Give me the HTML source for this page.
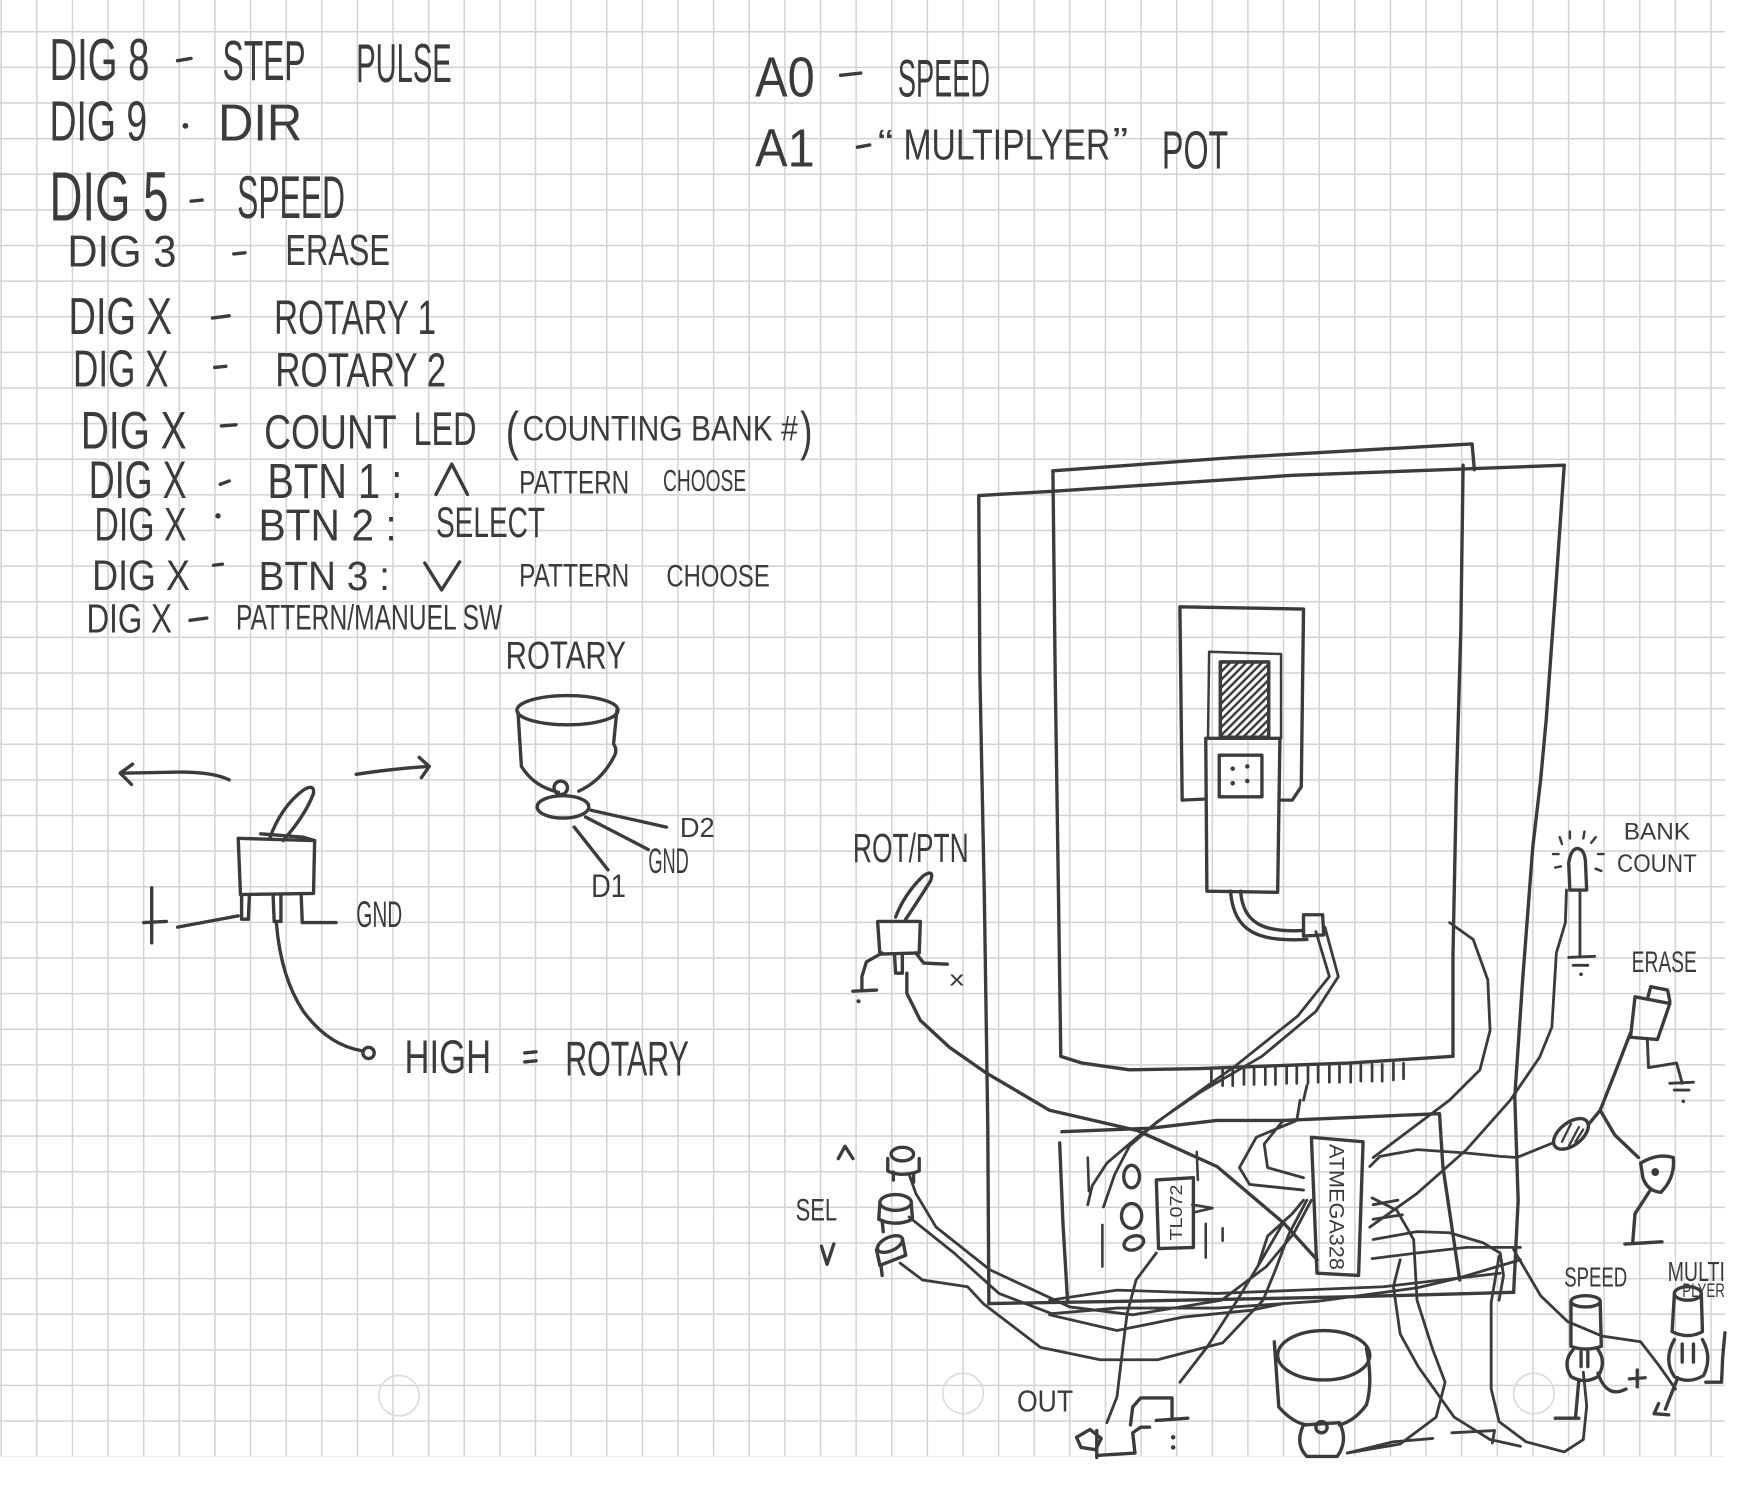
<!DOCTYPE html>
<html><head><meta charset="utf-8">
<style>
html,body{margin:0;padding:0;background:#fff;}
svg{display:block;}
text{font-family:"Liberation Sans",sans-serif;fill:#3b3b3b;}
.i{fill:none;stroke:#3b3b3b;stroke-width:3;stroke-linecap:round;stroke-linejoin:round;}
.w{fill:none;stroke:#3b3b3b;stroke-width:2.5;stroke-linecap:round;stroke-linejoin:round;}
.t{fill:none;stroke:#3b3b3b;stroke-width:2;stroke-linecap:round;stroke-linejoin:round;}
</style></head><body>
<svg width="1762" height="1489" viewBox="0 0 1568 1325" preserveAspectRatio="none">
<defs>
<pattern id="g" width="31.7" height="31.7" patternUnits="userSpaceOnUse" x="0.4" y="27.6">
<path d="M0.65,0 V31.7 M0,0.65 H31.7" stroke="#d2d2d2" stroke-width="1.3" fill="none"/>
</pattern>
<pattern id="h" width="5" height="5" patternUnits="userSpaceOnUse" patternTransform="rotate(45)">
<rect width="5" height="5" fill="#fff"/><line x1="1" y1="0" x2="1" y2="5" stroke="#3b3b3b" stroke-width="2.4"/>
</pattern>
</defs>
<rect x="0" y="0" width="1568" height="1325" fill="#fff"/>
<rect x="0" y="0" width="1535" height="1296" fill="url(#g)"/>

<!-- hole punches -->
<circle cx="355" cy="1242" r="18" fill="none" stroke="#dcdcdc" stroke-width="1.5"/>
<circle cx="857" cy="1240" r="18" fill="none" stroke="#dcdcdc" stroke-width="1.5"/>
<circle cx="1365" cy="1240" r="18" fill="none" stroke="#dcdcdc" stroke-width="1.5"/>

<!-- ===== LEFT TEXT ===== -->
<g lengthAdjust="spacingAndGlyphs">
<text x="44" y="71" font-size="53" textLength="89" lengthAdjust="spacingAndGlyphs">DIG 8</text>
<text x="198" y="71" font-size="50" textLength="74" lengthAdjust="spacingAndGlyphs">STEP</text>
<text x="317" y="73" font-size="49" textLength="85" lengthAdjust="spacingAndGlyphs">PULSE</text>

<text x="44" y="125" font-size="50" textLength="87" lengthAdjust="spacingAndGlyphs">DIG 9</text>
<text x="194" y="125" font-size="46" textLength="75" lengthAdjust="spacingAndGlyphs">DIR</text>

<text x="44" y="196" font-size="62" textLength="106" lengthAdjust="spacingAndGlyphs">DIG 5</text>
<text x="211" y="194" font-size="54" textLength="96" lengthAdjust="spacingAndGlyphs">SPEED</text>

<text x="60" y="237" font-size="40" textLength="97" lengthAdjust="spacingAndGlyphs">DIG 3</text>
<text x="254" y="236" font-size="39" textLength="93" lengthAdjust="spacingAndGlyphs">ERASE</text>

<text x="61" y="297" font-size="46" textLength="92" lengthAdjust="spacingAndGlyphs">DIG X</text>
<text x="244" y="297" font-size="43" textLength="144" lengthAdjust="spacingAndGlyphs">ROTARY 1</text>

<text x="65" y="344" font-size="46" textLength="85" lengthAdjust="spacingAndGlyphs">DIG X</text>
<text x="245" y="344" font-size="43" textLength="152" lengthAdjust="spacingAndGlyphs">ROTARY 2</text>

<text x="72" y="399" font-size="47" textLength="94" lengthAdjust="spacingAndGlyphs">DIG X</text>
<text x="235" y="399" font-size="43" textLength="118" lengthAdjust="spacingAndGlyphs">COUNT</text>
<text x="368" y="396" font-size="42" textLength="56" lengthAdjust="spacingAndGlyphs">LED</text>
<text x="450" y="400" font-size="48" textLength="12" lengthAdjust="spacingAndGlyphs">(</text>
<text x="465" y="392" font-size="31" textLength="245" lengthAdjust="spacingAndGlyphs">COUNTING BANK #</text>
<text x="712" y="400" font-size="48" textLength="11" lengthAdjust="spacingAndGlyphs">)</text>

<text x="79" y="443" font-size="47" textLength="87" lengthAdjust="spacingAndGlyphs">DIG X</text>
<text x="238" y="443" font-size="44" textLength="120" lengthAdjust="spacingAndGlyphs">BTN 1 :</text>
<text x="462" y="439" font-size="29" textLength="98" lengthAdjust="spacingAndGlyphs">PATTERN</text>
<text x="590" y="437" font-size="27" textLength="74" lengthAdjust="spacingAndGlyphs">CHOOSE</text>

<text x="84" y="481" font-size="42" textLength="82" lengthAdjust="spacingAndGlyphs">DIG X</text>
<text x="230" y="481" font-size="40" textLength="123" lengthAdjust="spacingAndGlyphs">BTN 2 :</text>
<text x="388" y="478" font-size="38" textLength="97" lengthAdjust="spacingAndGlyphs">SELECT</text>

<text x="82" y="525" font-size="38" textLength="87" lengthAdjust="spacingAndGlyphs">DIG X</text>
<text x="230" y="525" font-size="36" textLength="117" lengthAdjust="spacingAndGlyphs">BTN 3 :</text>
<text x="462" y="522" font-size="29" textLength="98" lengthAdjust="spacingAndGlyphs">PATTERN</text>
<text x="593" y="522" font-size="28" textLength="92" lengthAdjust="spacingAndGlyphs">CHOOSE</text>

<text x="77" y="563" font-size="36" textLength="76" lengthAdjust="spacingAndGlyphs">DIG X</text>
<text x="210" y="560" font-size="31" textLength="237" lengthAdjust="spacingAndGlyphs">PATTERN/MANUEL SW</text>

<text x="450" y="595" font-size="35" textLength="107" lengthAdjust="spacingAndGlyphs">ROTARY</text>

<!-- right top text -->
<text x="672" y="86" font-size="50" textLength="53" lengthAdjust="spacingAndGlyphs">A0</text>
<text x="799" y="86" font-size="47" textLength="82" lengthAdjust="spacingAndGlyphs">SPEED</text>
<text x="672" y="148" font-size="48" textLength="53" lengthAdjust="spacingAndGlyphs">A1</text>
<text x="781" y="138" font-size="32" textLength="14" lengthAdjust="spacingAndGlyphs">“</text>
<text x="804" y="142" font-size="39" textLength="184" lengthAdjust="spacingAndGlyphs">MULTIPLYER</text>
<text x="990" y="136" font-size="32" textLength="14" lengthAdjust="spacingAndGlyphs">”</text>
<text x="1034" y="150" font-size="48" textLength="59" lengthAdjust="spacingAndGlyphs">POT</text>

<!-- switch diagram labels -->
<text x="360" y="955" font-size="42" textLength="77" lengthAdjust="spacingAndGlyphs">HIGH</text>
<text x="503" y="957" font-size="44" textLength="110" lengthAdjust="spacingAndGlyphs">ROTARY</text>
<text x="605" y="745" font-size="25" textLength="31" lengthAdjust="spacingAndGlyphs">D2</text>
<text x="577" y="777" font-size="31" textLength="36" lengthAdjust="spacingAndGlyphs">GND</text>
<text x="526" y="798" font-size="29" textLength="31" lengthAdjust="spacingAndGlyphs">D1</text>
<text x="317" y="825" font-size="33" textLength="41" lengthAdjust="spacingAndGlyphs">GND</text>

<!-- right drawing labels -->
<text x="759" y="767" font-size="36" textLength="103" lengthAdjust="spacingAndGlyphs">ROT/PTN</text>
<text x="1445" y="747" font-size="21" textLength="59" lengthAdjust="spacingAndGlyphs">BANK</text>
<text x="1439" y="776" font-size="22" textLength="71" lengthAdjust="spacingAndGlyphs">COUNT</text>
<text x="1452" y="865" font-size="26" textLength="58" lengthAdjust="spacingAndGlyphs">ERASE</text>
<text x="708" y="1086" font-size="28" textLength="37" lengthAdjust="spacingAndGlyphs">SEL</text>
<text x="1392" y="1145" font-size="25" textLength="56" lengthAdjust="spacingAndGlyphs">SPEED</text>
<text x="1484" y="1140" font-size="25" textLength="51" lengthAdjust="spacingAndGlyphs">MULTI</text>
<text x="1497" y="1154" font-size="17" textLength="38" lengthAdjust="spacingAndGlyphs">PLYER</text>
<text x="905" y="1256" font-size="27" textLength="50" lengthAdjust="spacingAndGlyphs">OUT</text>
<text x="845" y="877" font-size="18" textLength="13" lengthAdjust="spacingAndGlyphs">x</text>
<text transform="translate(1183,1018) rotate(90)" x="0" y="0" font-size="19" textLength="112" lengthAdjust="spacingAndGlyphs">ATMEGA328</text>
<text transform="translate(1052,1104) rotate(-90)" x="0" y="0" font-size="16" textLength="50" lengthAdjust="spacingAndGlyphs">TL072</text>
</g>

<!-- dashes / dots / symbols in text -->
<g class="i">
<path d="M158,54 L170,52"/>
<path d="M170,179 L180,178"/>
<path d="M208,226 L218,225"/>
<path d="M189,283 L204,281"/>
<path d="M191,327 L201,326"/>
<path d="M197,379 L210,378"/>
<path d="M196,431 L204,428"/>
<path d="M190,503 L198,502"/>
<path d="M169,552 L184,550"/>
<path d="M748,67 L766,65"/>
<path d="M763,131 L774,129"/>
<path d="M388,440 L402,413 L416,440"/>
<path d="M378,501 L393,525 L409,500"/>
<path d="M467,937 L477,936 M467,945 L477,944"/>
<path d="M746,1031 L752,1020 L759,1031"/>
<path d="M731,1109 L736,1125 L742,1107"/>
</g>
<circle cx="165" cy="112" r="2.6" fill="#3b3b3b"/>
<circle cx="194" cy="459" r="2.4" fill="#3b3b3b"/>

<!-- ===== SWITCH DIAGRAM ===== -->
<g class="i">
<!-- arrows -->
<path d="M204,694 Q190,687 160,687 L108,688"/>
<path d="M118,680 L107,688 L117,698"/>
<path d="M317,689 Q350,684 381,682"/>
<path d="M373,674 L382,682 L375,692"/>
<!-- lever -->
<path d="M240,746 Q250,718 270,703 Q280,697 279,706 Q272,725 252,748"/>
<path d="M232,742 L270,745 L280,748"/>
<!-- body -->
<path d="M212,746 L280,748 L279,795 L214,796 Z"/>
<!-- legs -->
<path d="M215,796 L215,818 L221,818 L222,796"/>
<path d="M243,796 L244,820 L250,820 L250,796"/>
<path d="M268,796 L269,821 L299,821"/>
<path d="M212,815 L158,825"/>
<path d="M135,790 L135,839 M128,821 L148,820"/>
<!-- wire to high -->
<path d="M246,822 Q250,870 270,900 Q292,930 322,935"/>
<circle cx="328" cy="937" r="5"/>
<!-- rotary -->
<ellipse cx="505" cy="632" rx="45" ry="13"/>
<path d="M461,634 L464,682 Q475,700 497,705"/>
<path d="M549,632 L546,662 Q550,668 546,674 Q535,695 515,704"/>
<circle cx="499" cy="701" r="6"/>
<ellipse cx="501" cy="718" rx="23" ry="10"/>
<path d="M526,721 L593,736"/>
<path d="M521,727 L577,756"/>
<path d="M511,736 L541,774"/>
</g>

<!-- ===== RIGHT BIG DRAWING ===== -->
<g class="i">
<!-- outer rect -->
<path d="M871,441 L940,437 L1150,423 L1392,414"/>
<path d="M871,441 L872,600 L876,800 L879,1000 L880,1160"/>
<path d="M1392,414 L1384,530 L1376,640 L1371,694 L1364,754 L1355,872 L1348,976 L1351,1068 L1347,1150"/>
<path d="M880,1160 L1000,1158 L1200,1154 L1347,1150"/>
<!-- inner rect -->
<path d="M937,419 L1100,407 L1310,395 L1312,418"/>
<path d="M1302,414 L1300,560 L1296,700 L1293,850 L1293,940"/>
<path d="M937,419 L939,600 L942,800 L944,940 L963,946 L1005,952 L1065,951 L1200,946 L1293,940"/>
<!-- comb -->
<path d="M1078,951v15 M1088,951v15 M1097,951v15 M1107,950v15 M1116,950v15 M1126,950v15 M1135,950v15 M1145,949v15 M1154,949v15 M1164,949v15 M1173,948v15 M1183,948v15 M1192,948v15 M1202,948v15 M1211,947v15 M1221,947v15 M1230,947v15 M1240,946v15 M1249,946v14" stroke-width="2.4"/>
<!-- display module -->
<path d="M1050,540 L1160,542 L1158,700 L1150,712 L1139,712 M1050,540 L1052,712 L1073,711"/>
<path d="M1076,580 L1140,582 L1140,657 M1076,580 L1075,657" stroke-width="2.2"/>
<rect x="1086" y="589" width="43" height="67" fill="url(#h)"/>
<rect x="1086" y="589" width="43" height="67"/>
<path d="M1073,657 L1139,657 L1137,794 L1074,793 Z"/>
<rect x="1085" y="672" width="38" height="37"/>
<!-- cable -->
<path d="M1095,793 C1098,830 1120,838 1163,836"/>
<path d="M1104,793 C1106,822 1125,830 1160,828"/>
<path d="M1160,814 L1177,814 L1178,832 L1160,833 Z"/>
<!-- PCB -->
<path d="M945,1007 L1023,1004 L1083,997 L1142,997 L1281,991 L1284,1038 L1299,1139"/>
<path d="M943,1017 L946,1090 L950,1157"/>
<!-- chip -->
<path d="M1167,1012 L1213,1016 L1209,1135 L1172,1133 Z"/>
<path d="M1029,1050 L1062,1048 L1062,1110 L1031,1111 Z"/>
<!-- LEDs on pcb -->
<ellipse cx="1007" cy="1047" rx="7" ry="10"/>
<ellipse cx="1007" cy="1082" rx="9" ry="11"/>
<ellipse cx="1009" cy="1106" rx="9" ry="6" transform="rotate(-20 1009 1106)"/>
<path d="M1065,1025 L1066,1050 M1061,1072 L1079,1075 L1062,1079 M1073,1089 L1073,1119 M1088,1093 L1088,1104 M981,1090 L981,1127 M968,1030 L969,1060" stroke-width="2.3"/>
</g>
<g fill="#3b3b3b">
<circle cx="1097" cy="684" r="2"/><circle cx="1110" cy="682" r="2"/><circle cx="1097" cy="697" r="2"/><circle cx="1110" cy="695" r="2"/>
</g>

<!-- ROT/PTN toggle -->
<g class="i">
<path d="M797,816 Q805,795 822,779 Q832,773 828,784 Q818,800 806,818"/>
<path d="M781,820 L819,820 L818,848 L783,849 Z"/>
<path d="M785,848 L771,856 L767,869 L767,881 M759,882 L780,881"/>
<path d="M796,849 L797,866 L803,866 L803,849"/>
<path d="M815,848 L822,857 L843,858"/>
<path d="M807,866 L807,884 L819,908 L845,932 L878,955 L934,988 L1012,1006 L1083,1038 L1142,1088 L1172,1121"/>
</g>
<circle cx="764" cy="891" r="1.8" fill="#3b3b3b"/>

<!-- SEL buttons -->
<g class="i" stroke-width="2.6">
<ellipse cx="803" cy="1027" rx="10" ry="6"/>
<path d="M790,1031 L790,1042 Q803,1048 818,1042 L818,1031"/>
<path d="M795,1043 L795,1050 M813,1045 L813,1052"/>
<ellipse cx="797" cy="1070" rx="14" ry="7"/>
<path d="M783,1071 L782,1085 Q797,1092 812,1085 L811,1071 M785,1086 L786,1096"/>
<ellipse cx="792" cy="1107" rx="12" ry="6" transform="rotate(-25 792 1107)"/>
<path d="M780,1112 L783,1126 L806,1117 L803,1102 M784,1126 L785,1135"/>
</g>

<!-- wires -->
<g class="w">
<polyline points="1179,825 1191,869 1171,900 1123,940 1068,972 1030,998 1005,1020 992,1045 982,1074"/>
<polyline points="1171,829 1183,869 1155,904 1100,948 1044,988 1012,1012 985,1035 972,1055 968,1072"/>
<polyline points="809,1045 815,1062 833,1092 881,1130 952,1163 1008,1170 1087,1157 1127,1127 1151,1098 1167,1068"/>
<polyline points="809,1083 849,1115 889,1151 936,1169 994,1164 1083,1164 1172,1158 1261,1146 1299,1137 1353,1121"/>
<polyline points="801,1124 821,1139 861,1145 875,1160 926,1199 979,1210 1030,1210 1088,1195 1124,1157 1135,1130 1147,1098 1163,1068"/>
<polyline points="934,1157 994,1148 1083,1151 1157,1148 1231,1145 1335,1133"/>
<polyline points="934,1170 994,1184 1053,1172 1113,1166 1142,1160"/>
<polyline points="1142,1088 1124,1119 1101,1157 1074,1199 1050,1230"/>
<polyline points="1029,1115 1011,1139 1003,1169 999,1201 994,1243 985,1266"/>
<polyline points="1290,821 1311,836 1324,872 1326,917 1317,952 1290,979 1246,1012 1222,1030"/>
<polyline points="1394,792 1393,821 1385,848 1381,914 1370,941 1344,979 1305,1023 1261,1062 1219,1092"/>
<polyline points="1219,1038 1228,1029 1261,1023 1305,1026 1335,1029 1350,1030 1382,1017"/>
<polyline points="1221,1066 1243,1077 1258,1103 1261,1157 1275,1201 1286,1230 1278,1261 1246,1285 1199,1293"/>
<polyline points="1222,1103 1261,1096 1290,1097 1320,1106 1335,1115 1338,1135 1334,1157"/>
<polyline points="1221,1120 1261,1115 1305,1110 1335,1110 1353,1110"/>
<polyline points="1246,1121 1240,1145 1246,1187 1262,1216 1294,1261 1326,1281 1353,1287"/>
<polyline points="1142,997 1125,1018 1128,1039 1160,1048"/>
<polyline points="1157,979 1154,997 1118,1012 1103,1039 1112,1054 1160,1059"/>
<polyline points="1163,966 1160,979"/>
<polyline points="1160,1068 1150,1080 1128,1100 1120,1125"/>
<polyline points="1222,1072 1244,1068 M1222,1085 1248,1081"/>
<polyline points="1222,1085 1248,1081"/>
<polyline points="1347,1112 1371,1153 1395,1176 1426,1189 1460,1194 1477,1216 1491,1236"/>
<polyline points="1334,1118 1327,1159 1327,1236 1334,1265 1358,1283 1392,1292 1409,1281 1412,1251 1409,1221"/>
<polyline points="1199,1293 1240,1283 1275,1280"/>
<polyline points="1292,1275 1330,1273 1328,1284"/>
</g>

<!-- Bank count LED -->
<g class="i">
<path d="M1397,792 L1396,768 Q1398,755 1404,755 Q1411,756 1411,770 L1412,792 Z"/>
<path d="M1406,792 L1406,851 M1396,852 L1419,851 M1400,859 L1413,859" stroke-width="2.5"/>
<path d="M1388,745 L1390,751 M1397,740 L1397,746 M1410,740 L1409,746 M1420,745 L1416,750 M1382,760 L1387,760 M1422,760 L1427,760 M1384,772 L1389,771 M1420,773 L1425,775" stroke-width="2.2"/>
</g>
<circle cx="1407" cy="867" r="1.6" fill="#3b3b3b"/>

<!-- Erase button -->
<g class="i">
<path d="M1455,887 L1486,893 L1475,925 L1451,923 Z"/>
<path d="M1466,889 L1469,878 L1484,881 L1486,891"/>
<path d="M1466,926 L1467,950 L1492,946 L1497,964 M1486,964 L1507,963 M1490,970 L1503,970" stroke-width="2.6"/>
<path d="M1451,919 L1439,950 L1424,988 L1414,1000"/>
<path d="M1424,988 L1437,1010 L1458,1030"/>
</g>
<circle cx="1498" cy="980" r="1.6" fill="#3b3b3b"/>

<!-- resistor -->
<g class="i">
<ellipse cx="1398" cy="1009" rx="18" ry="10" transform="rotate(-38 1398 1009)"/>
<path d="M1390,1016 L1398,1000 M1396,1020 L1405,1003 M1402,1016 L1409,1005" stroke-width="2"/>
</g>

<!-- small button -->
<g class="i">
<path d="M1460,1035 Q1475,1026 1489,1030 Q1491,1048 1478,1061 Q1466,1060 1462,1048 Z"/>
<path d="M1468,1060 L1455,1080 L1453,1105 M1446,1107 L1479,1105"/>
</g>
<circle cx="1473" cy="1043" r="3.5" fill="#3b3b3b"/>

<!-- SPEED pot -->
<g class="i" stroke-width="2.6">
<ellipse cx="1411" cy="1158" rx="13" ry="5"/>
<path d="M1398,1158 L1398,1198 Q1411,1203 1425,1198 L1424,1158"/>
<path d="M1400,1201 Q1390,1212 1398,1225 Q1410,1232 1422,1225 Q1430,1212 1422,1201"/>
<path d="M1407,1203 L1407,1216 M1413,1203 L1413,1216"/>
<path d="M1405,1228 L1402,1262 M1384,1262 L1405,1262"/>
<path d="M1422,1222 Q1430,1245 1447,1236"/>
<path d="M1457,1219 L1457,1234 M1450,1227 L1464,1226"/>
</g>

<!-- MULTI pot -->
<g class="i" stroke-width="2.6">
<ellipse cx="1502" cy="1151" rx="12" ry="6"/>
<path d="M1490,1152 L1488,1185 Q1502,1192 1515,1185 L1514,1152"/>
<path d="M1490,1192 Q1480,1210 1490,1225 Q1503,1232 1516,1224 Q1524,1208 1515,1192"/>
<path d="M1497,1196 L1497,1212 M1507,1196 L1507,1212"/>
<path d="M1493,1226 L1482,1254 M1476,1249 L1472,1258 L1485,1259"/>
<path d="M1518,1230 L1532,1230 L1533,1208 L1535,1186"/>
</g>

<!-- bottom knob -->
<g class="i">
<ellipse cx="1178" cy="1206" rx="41" ry="22"/>
<path d="M1134,1194 L1138,1252 Q1150,1266 1163,1268"/>
<path d="M1216,1200 Q1222,1230 1216,1250 Q1206,1264 1192,1268"/>
<path d="M1160,1268 Q1152,1285 1163,1296 L1190,1296 Q1200,1282 1192,1266 Z"/>
<circle cx="1176" cy="1270" r="5"/>
</g>

<!-- OUT jack -->
<g class="i">
<path d="M976,1273 L976,1297 M978,1295 L1010,1293 L1008,1275 L1015,1270 L1023,1270"/>
<path d="M1006,1268 L1008,1252 L1015,1244 L1043,1244 L1043,1261 M1029,1264 L1057,1262"/>
<path d="M958,1279 L970,1272 L980,1280 L975,1290 L962,1288 Z"/>
</g>
<circle cx="1044" cy="1279" r="2" fill="#3b3b3b"/>
<circle cx="1044" cy="1288" r="2" fill="#3b3b3b"/>

</svg>
</body></html>
